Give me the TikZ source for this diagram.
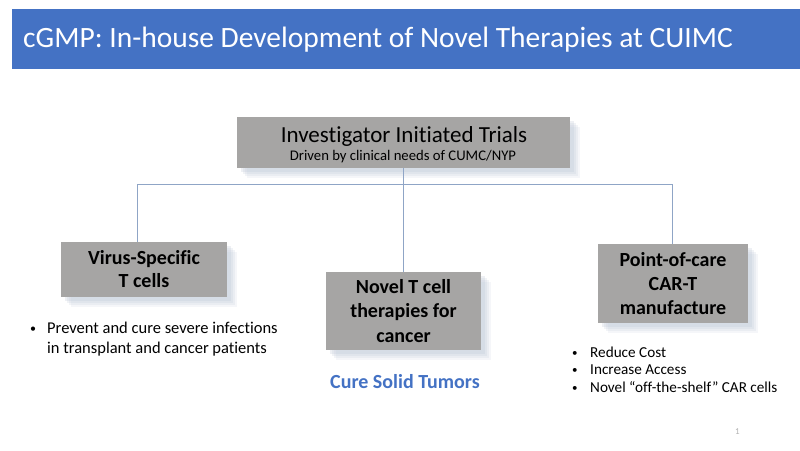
\documentclass[tikz,border=0pt]{standalone}
\usepackage{fontspec}
\setmainfont{Carlito}[Ligatures=NoCommon]
\usetikzlibrary{shadows}
\definecolor{titleblue}{HTML}{4472C4}
\definecolor{boxgray}{HTML}{A6A5A4}
\definecolor{shadowc}{HTML}{BCC6D6}
\definecolor{connc}{HTML}{8FA5C6}
\definecolor{bluetext}{HTML}{4472C4}
\tikzset{
  graybox/.style={rectangle, fill=boxgray, inner sep=0pt, align=center,
    drop shadow={shadow xshift=10pt, shadow yshift=-10pt, fill=shadowc, opacity=0.14},
    drop shadow={shadow xshift=8pt, shadow yshift=-8pt, fill=shadowc, opacity=0.18},
    drop shadow={shadow xshift=6pt, shadow yshift=-6pt, fill=shadowc, opacity=0.2},
    drop shadow={shadow xshift=4pt, shadow yshift=-4pt, fill=shadowc, opacity=0.25}},
  conn/.style={draw=connc, line width=0.8pt},
  txt/.style={anchor=base west, inner sep=0pt},
  ctxt/.style={anchor=base, inner sep=0pt},
  bul/.style={anchor=base west, inner sep=0pt}
}
\begin{document}
\begin{tikzpicture}[x=1pt,y=-1pt]
\useasboundingbox (0,0) rectangle (800,450);
\fill[white] (0,0) rectangle (800,450);
% title bar
\fill[titleblue] (12,9) rectangle (800,69);
\node[txt, text=white, font=\fontsize{29.5}{34}\selectfont] (title) at (23,47) {cGMP: In-house Development of Novel Therapies at CUIMC};
% boxes
\node[graybox, minimum width=333pt, minimum height=51pt] (top) at (403.5,142.5) {};
\node[ctxt, font=\fontsize{23}{26}\selectfont] (topt1) at (404,142) {Investigator Initiated Trials};
\node[ctxt, font=\fontsize{14.7}{17}\selectfont] (topt2) at (403,160) {Driven by clinical needs of CUMC/NYP};
\node[graybox, minimum width=166pt, minimum height=55pt, font=\bfseries\fontsize{20}{23}\selectfont] (left) at (144,269.5)
  {Virus-Specific\\T cells};
\node[graybox, minimum width=155pt, minimum height=78pt, font=\bfseries\fontsize{20}{24.5}\selectfont] (mid) at (403.5,311)
  {Novel T cell\\therapies for\\cancer};
\node[graybox, minimum width=150pt, minimum height=79pt, font=\bfseries\fontsize{20}{24}\selectfont] (right) at (673,283.5)
  {Point-of-care\\CAR-T\\manufacture};
% connectors
\coordinate (hl) at (137,184);
\coordinate (hr) at (672,184);
\draw[conn] (top.south) -- (mid.north);
\draw[conn] (hl |- left.north) -- (hl) -- (hr) -- (hr |- right.north);
% texts
\node[bul, font=\fontsize{12}{18}\selectfont] (b1) at (30,332) {•};
\node[txt, font=\fontsize{16.5}{18}\selectfont] (t1) at (47,333) {Prevent and cure severe infections};
\node[txt, font=\fontsize{16.5}{18}\selectfont] (t2) at (47,353) {in transplant and cancer patients};
\node[txt, text=bluetext, font=\bfseries\fontsize{20}{22}\selectfont] (cure) at (330,388) {Cure Solid Tumors};
\node[bul, font=\fontsize{11}{16}\selectfont] (rb1) at (572,356) {•};
\node[txt, font=\fontsize{15.2}{16}\selectfont] (rt1) at (590,357) {Reduce Cost};
\node[bul, font=\fontsize{11}{16}\selectfont] (rb2) at (572,373) {•};
\node[txt, font=\fontsize{15.2}{16}\selectfont] (rt2) at (590,374) {Increase Access};
\node[bul, font=\fontsize{11}{16}\selectfont] (rb3) at (572,391) {•};
\node[txt, font=\fontsize{15.2}{16}\selectfont] (rt3) at (590,392) {Novel “off-the-shelf” CAR cells};
\node[txt, text=gray!60, font=\fontsize{9}{10}\selectfont] (pg) at (735,434) {1};
\end{tikzpicture}
\end{document}
